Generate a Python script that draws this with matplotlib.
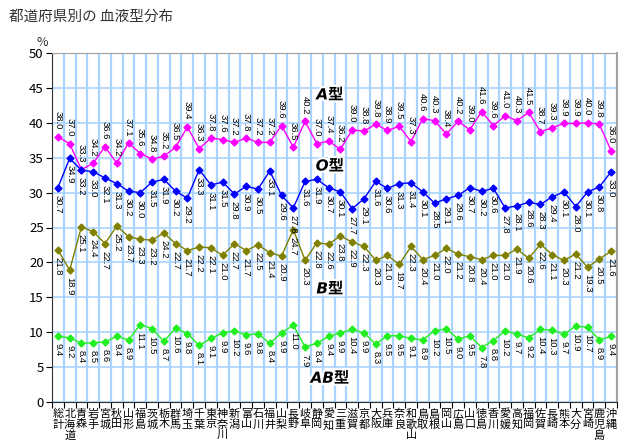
import matplotlib
matplotlib.use("Agg")
import matplotlib.pyplot as plt
import matplotlib.patheffects as pe
import numpy as np

plt.rcParams['font.family'] = ['Noto Sans CJK JP', 'DejaVu Sans']

prefs = ["総計", "北海道", "青森", "岩手", "宮城", "秋田", "山形", "福島", "茨城", "栃木",
         "群馬", "埼玉", "千葉", "東京", "神奈川", "新潟", "富山", "石川", "福井", "山梨",
         "長野", "岐阜", "静岡", "愛知", "三重", "滋賀", "京都", "大阪", "兵庫", "奈良",
         "和歌山", "鳥取", "島根", "岡山", "広島", "山口", "徳島", "香川", "愛媛", "高知",
         "福岡", "佐賀", "長崎", "熊本", "大分", "宮崎", "鹿児島", "沖縄"]

type_a = [38.0, 37.0, 33.3, 34.2, 36.6, 34.2, 37.1, 35.6, 34.8, 35.2,
          36.5, 39.4, 36.3, 37.8, 37.6, 37.2, 37.8, 37.2, 37.2, 39.6,
          36.5, 40.2, 37.0, 37.4, 36.2, 39.0, 38.8, 39.8, 38.9, 39.5,
          37.3, 40.6, 40.3, 38.4, 40.2, 39.0, 41.6, 39.6, 41.0, 40.3,
          41.5, 38.7, 39.3, 39.9, 39.9, 40.0, 39.8, 36.0]
type_o = [30.7, 34.9, 33.2, 33.0, 32.1, 31.3, 30.2, 30.0, 31.5, 31.9,
          30.2, 29.2, 33.3, 31.1, 31.5, 29.8, 30.9, 30.5, 33.1, 29.6,
          27.8, 31.6, 31.9, 30.7, 30.1, 27.7, 29.1, 31.6, 30.6, 31.3,
          31.4, 30.1, 28.5, 29.1, 29.6, 30.7, 30.2, 30.6, 27.8, 28.1,
          28.6, 28.3, 29.4, 30.1, 28.0, 30.1, 30.8, 33.0]
type_b = [21.8, 18.9, 25.1, 24.4, 22.7, 25.2, 23.7, 23.3, 23.2, 24.2,
          22.7, 21.7, 22.2, 22.1, 21.0, 22.7, 21.7, 22.5, 21.4, 20.9,
          24.7, 20.3, 22.8, 22.6, 23.8, 22.9, 22.3, 20.3, 21.0, 19.7,
          22.3, 20.4, 21.0, 22.0, 21.2, 20.8, 20.4, 21.0, 21.0, 21.9,
          20.6, 22.6, 21.1, 20.3, 21.2, 19.3, 20.5, 21.6]
type_ab = [9.4, 9.2, 8.4, 8.5, 8.6, 9.4, 8.9, 11.1, 10.5, 8.7,
           10.6, 9.8, 8.1, 9.1, 9.9, 10.2, 9.6, 9.8, 8.4, 9.9,
           11.0, 7.9, 8.4, 9.4, 9.9, 10.4, 9.9, 8.3, 9.5, 9.5,
           9.1, 8.9, 10.2, 10.5, 9.0, 9.5, 7.8, 8.8, 10.2, 9.7,
           9.2, 10.4, 10.3, 9.7, 10.9, 10.7, 8.9, 9.4]

# name, values, colour, label side, y of the series name
series = [
    ("A型", type_a, "#ff00ff", "above", 44.0),
    ("O型", type_o, "#0000ff", "below", 33.8),
    ("B型", type_b, "#808000", "below", 16.2),
    ("AB型", type_ab, "#22ee22", "below", 3.4),
]

fig = plt.figure(figsize=(6.4, 4.46), dpi=100)
ax = fig.add_axes([52 / 640, 44 / 446, 565 / 640, 349 / 446])

x = np.arange(len(prefs))

for name, vals, col, side, ly in series:
    ax.plot(x, vals, color=col, lw=1, marker="D", ms=3.5, zorder=3)
    for xi, v in zip(x, vals):
        dy = 7 if side == "above" else -7
        ax.annotate(f"{v:.1f}", (xi, v), xytext=(0, dy), textcoords="offset pixels",
                    rotation=270, ha="center", va="bottom" if side == "above" else "top",
                    fontsize=6.8, family="Liberation Sans", color="black", zorder=4)
    ax.text(23.1, ly, name, ha="center", va="center", fontsize=11, fontweight="bold",
            style="italic", family=["DejaVu Sans", "Noto Sans CJK JP"], color="black",
            path_effects=[pe.withStroke(linewidth=3, foreground="white")], zorder=5)

ax.set_xlim(-0.5, len(prefs) - 0.5)
ax.set_ylim(0, 50)
ax.set_yticks(np.arange(0, 51, 5))
ax.tick_params(axis="y", direction="out", length=4, labelsize=9.5, pad=2)

ax.set_xticks(np.arange(-0.5, len(prefs), 1))
ax.set_xticklabels([])
ax.tick_params(axis="x", which="major", direction="out", length=4)
ax.set_xticks(x, minor=True)
ax.set_xticklabels(["\n".join(p) for p in prefs], minor=True, fontsize=8, linespacing=1.05,
                   va="top")
ax.tick_params(axis="x", which="minor", length=0, pad=5)

ax.grid(True, axis="x", which="major", color="#a8d4ff", lw=1.6)
ax.grid(True, axis="y", color="#a8d4ff", lw=1.2)
ax.set_axisbelow(True)

ax.spines["left"].set_color("#333333")
ax.spines["bottom"].set_color("#333333")
ax.spines["top"].set_color("#a0a0a0")
ax.spines["right"].set_color("#a0a0a0")
ax.spines["right"].set_linewidth(1.5)

fig.text(9 / 640, 1 - 17 / 446, "都道府県別の 血液型分布", fontsize=10.5, color="#333333",
         va="center", ha="left")
fig.text(42 / 640, 1 - 42 / 446, "%", fontsize=9, color="#333333", ha="center", va="center")

fig.savefig("out.png", dpi=100)
